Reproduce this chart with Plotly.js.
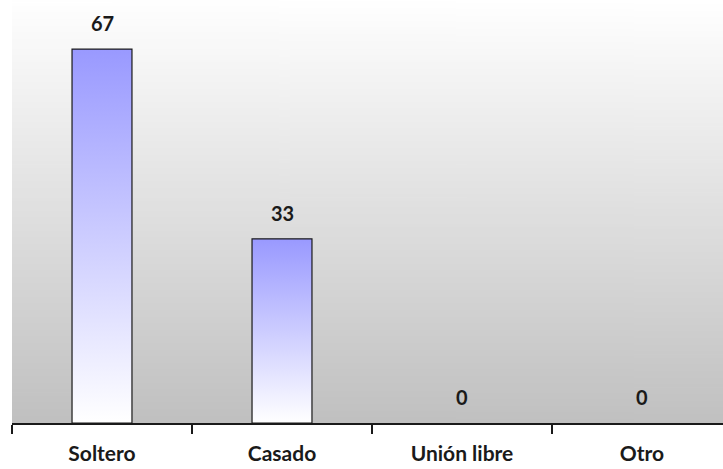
<!DOCTYPE html>
<html>
<head>
<meta charset="utf-8">
<script src="https://cdn.plot.ly/plotly-3.0.1.min.js"></script>
<style>html,body{margin:0;padding:0;background:#fff;}#chart{width:723px;height:469px;}</style>
</head>
<body>
<div id="chart"></div>
<script>
const categories = ["Soltero", "Casado", "Unión libre", "Otro"];
const values = [67, 33, 0, 0];
const valueLabels = ["67", "33", "0", "0"];

const barWidth = 0.333;
const barTop = '#9999ff';
const barBottom = '#ffffff';
const FONT = 'Lato, sans-serif';

// background gradient image
const cv = document.createElement('canvas');
cv.width = 4; cv.height = 256;
const ctx = cv.getContext('2d');
const g = ctx.createLinearGradient(0, 0, 0, 256);
g.addColorStop(0, '#ffffff');
g.addColorStop(1, '#c0c0c0');
ctx.fillStyle = g;
ctx.fillRect(0, 0, 4, 256);
const bgURL = cv.toDataURL('image/png');

const traces = [];
categories.forEach((c, i) => {
  if (values[i] <= 0) return;
  const x0 = i - barWidth / 2, x1 = i + barWidth / 2;
  traces.push({
    type: 'scatter', mode: 'lines',
    x: [x0, x0, x1, x1, x0],
    y: [0, values[i], values[i], 0, 0],
    fill: 'toself',
    fillgradient: {type: 'vertical', colorscale: [[0, barBottom], [1, barTop]]},
    line: {color: '#1a1a1a', width: 1.2},
    hoverinfo: 'skip', showlegend: false
  });
});

const annotations = categories.map((c, i) => ({
  x: i, y: values[i], xref: 'x', yref: 'y',
  text: valueLabels[i], showarrow: false,
  yshift: 26, yanchor: 'middle',
  font: {family: FONT, size: 20, weight: 700, color: '#1a1a1a'}
}));

const layout = {
  width: 723, height: 469,
  margin: {l: 12, r: 0, t: 0, b: 46},
  paper_bgcolor: '#ffffff',
  plot_bgcolor: 'rgba(0,0,0,0)',
  showlegend: false,
  annotations: annotations,
  images: [{source: bgURL, xref: 'paper', yref: 'paper', x: 0, y: 1, sizex: 1, sizey: 1,
            sizing: 'stretch', xanchor: 'left', yanchor: 'top', layer: 'below'}],
  xaxis: {
    type: 'linear', range: [-0.5, 3.45],
    tickvals: categories.map((c, i) => i), ticktext: categories,
    ticks: '', showgrid: false, zeroline: false,
    showline: true, linecolor: '#1a1a1a', linewidth: 1.5,
    tickfont: {family: FONT, size: 21, weight: 700, color: '#1a1a1a'},
    ticklabelstandoff: 11,
    minor: {tickvals: [-0.5, 0.5, 1.5, 2.5], ticks: 'outside', ticklen: 9, tickwidth: 1.5, tickcolor: '#1a1a1a', showgrid: false},
    fixedrange: true
  },
  yaxis: {
    range: [0, 75.8], visible: false, showgrid: false, zeroline: false, fixedrange: true
  }
};

Plotly.newPlot('chart', traces, layout, {displayModeBar: false, staticPlot: true});
</script>
</body>
</html>
